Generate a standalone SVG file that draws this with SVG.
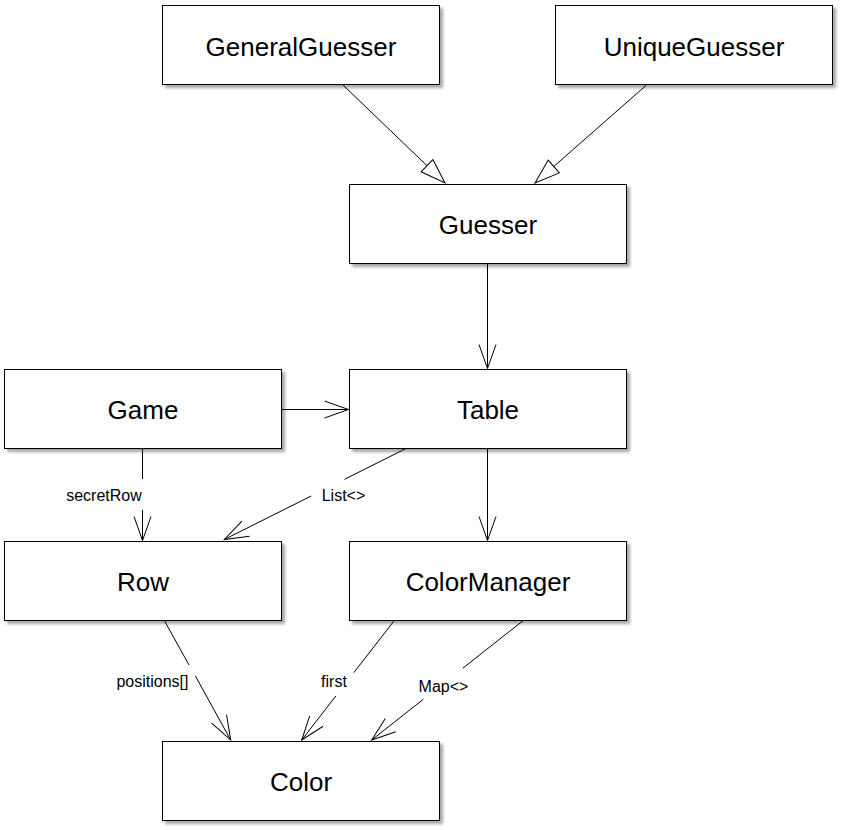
<svg xmlns="http://www.w3.org/2000/svg" width="843" height="830" viewBox="0 0 843 830">
<style>
.box{fill:#fff;stroke:#000;stroke-width:1;filter:url(#sh)}
.nt{font-family:"Liberation Sans",Arial,Helvetica,sans-serif;font-size:26px;fill:#000;text-anchor:middle}
.lb{font-family:"Liberation Sans",Arial,Helvetica,sans-serif;font-size:16px;fill:#000;text-anchor:middle}
.c{fill:none;stroke:#000;stroke-width:1}
.open{marker-end:url(#open)}
.gen{marker-end:url(#tri)}
</style>
<defs>
<filter id="sh" x="-10%" y="-10%" width="130%" height="140%">
<feDropShadow dx="3" dy="3" stdDeviation="1.8" flood-color="#000" flood-opacity="0.35"/>
</filter>
<marker id="open" markerUnits="userSpaceOnUse" markerWidth="26" markerHeight="20" refX="24" refY="8.5" orient="auto" overflow="visible">
<path d="M0,0 L24,8.5 L0,17" fill="none" stroke="#000" stroke-width="1"/>
</marker>
<marker id="tri" markerUnits="userSpaceOnUse" markerWidth="27" markerHeight="20" refX="25" refY="8.5" orient="auto" overflow="visible">
<path d="M0,0 L25,8.5 L0,17 Z" fill="#fff" stroke="#000" stroke-width="1"/>
</marker>
</defs>
<rect width="843" height="830" fill="#fff"/>
<g id="connectors">
<path class="c gen" d="M343,85 L445,183"/>
<path class="c gen" d="M646.5,85 L535,183"/>
<path class="c open" d="M487.5,263.5 L487.5,368.5"/>
<path class="c open" d="M281.5,409.5 L348.5,409.5"/>
<path class="c open" d="M142.5,448.5 L142.5,479 M142.5,510 L142.5,540.5"/>
<path class="c open" d="M406,448.5 L344.5,479.3 M311.2,496 L224.3,539.5"/>
<path class="c open" d="M487.5,448.5 L487.5,540.5"/>
<path class="c open" d="M164.3,620.5 L189,665 M195.4,676 L230.7,740"/>
<path class="c open" d="M394.3,620.5 L353.8,672.7 M335.8,696 L301.7,740"/>
<path class="c open" d="M523.3,620.5 L462.7,668.3 M423.3,699.3 L371.7,740"/>
<text class="lb" x="104" y="501">secretRow</text>
<text class="lb" x="343.5" y="501">List&lt;&gt;</text>
<text class="lb" x="152.5" y="687">positions[]</text>
<text class="lb" x="334" y="687">first</text>
<text class="lb" x="443.5" y="691.5">Map&lt;&gt;</text>
</g>
<g id="GeneralGuesser"><rect class="box" x="162.5" y="5.5" width="277" height="79"/><text class="nt" x="301" y="55.5">GeneralGuesser</text></g>
<g id="UniqueGuesser"><rect class="box" x="555.5" y="5.5" width="277" height="79"/><text class="nt" x="694" y="55.5">UniqueGuesser</text></g>
<g id="Guesser"><rect class="box" x="349.5" y="184.5" width="277" height="79"/><text class="nt" x="488" y="234">Guesser</text></g>
<g id="Game"><rect class="box" x="4.5" y="369.5" width="277" height="79"/><text class="nt" x="143" y="419">Game</text></g>
<g id="Table"><rect class="box" x="349.5" y="369.5" width="277" height="79"/><text class="nt" x="488" y="419">Table</text></g>
<g id="Row"><rect class="box" x="4.5" y="541.5" width="277" height="79"/><text class="nt" x="143" y="591">Row</text></g>
<g id="ColorManager"><rect class="box" x="349.5" y="541.5" width="277" height="79"/><text class="nt" x="488" y="591">ColorManager</text></g>
<g id="Color"><rect class="box" x="162.5" y="741.5" width="277" height="79"/><text class="nt" x="301" y="791">Color</text></g>
</svg>
